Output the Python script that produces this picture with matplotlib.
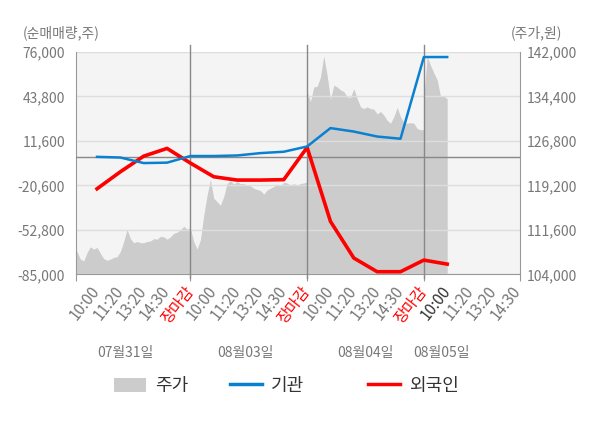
import numpy as np
import matplotlib
matplotlib.use("Agg")
import matplotlib.pyplot as plt
import matplotlib.transforms as mtransforms
from matplotlib.patches import Patch
from matplotlib.lines import Line2D

plt.rcParams['font.family'] = ['Noto Sans CJK KR', 'DejaVu Sans']

# ---- data ----
tick_labels = ["10:00", "11:20", "13:20", "14:30", "장마감"] * 3 + ["10:00", "11:20", "13:20", "14:30"]
day_labels = ["07월31일", "08월03일", "08월04일", "08월05일"]
day_label_pos = [2.2, 7.35, 12.5, 15.75]

# 기관 / 외국인 순매매량 (주)
inst = [0, -500, -4500, -4200, 600, 600, 1000, 2700, 3700, 7500,
        20800, 18300, 14700, 13100, 72200, 72200]
foreign = [-23100, -10800, 500, 6100, -4500, -14400, -16800, -16800, -16500, 6800,
           -46700, -73200, -83100, -83100, -74700, -77600]

# 주가 (원), 하루 단위 샘플
price_d1 = [108200, 107900, 106600, 106300, 107700, 108700, 108300, 108600, 107600, 106700,
            106400, 106600, 106900, 107000, 107900, 109600, 111700, 110100, 109400, 109600,
            109400, 109400, 109600, 109700, 110100, 110000, 110500, 110400, 110000, 110400,
            111000, 111200, 111600, 112200, 111700, 112000]
price_d2 = [111800, 109600, 108300, 109900, 114100, 117500, 120200, 117000, 116400, 115800,
            117300, 119500, 120000, 119400, 119800, 119500, 119500, 119200, 119100, 118700,
            118500, 118300, 117700, 118400, 118700, 119000, 119400, 119100, 119700, 119600,
            119200, 119500, 119200, 119500, 119600, 119800]
price_d3 = [135200, 133500, 136000, 136100, 137700, 141300, 138000, 133900, 136300, 136000,
            135500, 135200, 134300, 134200, 135700, 134000, 132600, 132300, 132600, 132300,
            132200, 131400, 131800, 131200, 130300, 129800, 130900, 132500, 130900, 129900,
            129800, 129900, 129800, 128900, 128700, 128700]
price_d4 = [134300, 141200, 139700, 138400, 137200, 134400, 134400, 134000]

# ---- figure ----
fig = plt.figure(figsize=(6, 4.28), dpi=100)
ax = fig.add_axes([0.1267, 0.359, 0.74, 0.52])
ax.set_facecolor('#f4f4f4')
ax2 = ax.twinx()
ax.yaxis.tick_right()
ax2.yaxis.tick_left()

# price area
px, py = [], []
for d, p in enumerate([price_d1, price_d2, price_d3]):
    px.append(np.linspace(d * 5, d * 5 + 5, len(p)))
    py.append(np.array(p))
px.append(15 + np.arange(len(price_d4)) * 5 / 35)
py.append(np.array(price_d4))
px = np.concatenate(px)
py = np.concatenate(py)
ax.fill_between(px, 104000, py, color='#cccccc', lw=0)

ax.set_ylim(104000, 142000)
ax.set_yticks(np.arange(104000, 142001, 7600))
ax.set_yticklabels([f"{v:,}" for v in np.arange(104000, 142001, 7600)])
ax.grid(axis='y', color='#dddddd', lw=1)

xmin, xmax = 0.1, 19.12
ax.set_xlim(xmin, xmax)
ax.xaxis.remove_overlapping_locs = False
ax.set_xticks([xmin, 5, 10, 15, xmax])
ax.set_xticklabels([])
ax.tick_params(axis='x', which='major', length=5, color='#999999')
ax.set_xticks(np.arange(1, len(tick_labels) + 1), minor=True)
ax.set_xticklabels(tick_labels, minor=True, rotation=52, ha='right', va='center',
                   rotation_mode='anchor', fontsize=11)
ax.tick_params(axis='x', which='minor', length=0, pad=10)
for i, t in enumerate(ax.get_xticklabels(minor=True)):
    if tick_labels[i] == "장마감":
        t.set_color('red')
    elif i == 15:
        t.set_color('#333333')
    else:
        t.set_color('#777777')

ax.tick_params(axis='y', length=0, labelsize=10, labelcolor='#777777', pad=5)

# lines
xs = np.arange(1, len(inst) + 1)
ax2.set_ylim(-85000, 76000)
ax2.set_yticks(np.arange(-85000, 76001, 32200))
ax2.set_yticklabels([f"{v:,}" for v in np.arange(-85000, 76001, 32200)])
ax2.tick_params(axis='y', length=0, labelsize=10, labelcolor='#777777', pad=8)
ax2.axhline(0, color='#888888', lw=1, zorder=2)
for b in [5, 10, 15]:
    ax2.axvline(b, ymin=-0.015, ymax=1.03, color='#888888', lw=1, clip_on=False, zorder=2)
ax2.plot(xs, foreign, color='#ff0000', lw=2.6, zorder=3)
ax2.plot(xs, inst, color='#0a80d0', lw=1.8, zorder=4)

for a in (ax, ax2):
    a.spines['top'].set_visible(False)
for s in ['left', 'right', 'bottom']:
    ax.spines[s].set_color('#999999')
    ax2.spines[s].set_visible(False)

# date labels
trans = mtransforms.blended_transform_factory(ax.transData, fig.transFigure)
for pos, lab in zip(day_label_pos, day_labels):
    ax.text(pos, 0.175, lab, transform=trans, ha='center', va='center',
            fontsize=10, color='#777777')

fig.text(0.038, 0.923, "(순매매량,주)", ha='left', va='center', fontsize=10, color='#777777')
fig.text(0.937, 0.923, "(주가,원)", ha='right', va='center', fontsize=10, color='#777777')

# legend entries placed one by one
handles = [Patch(facecolor='#cccccc', edgecolor='none'),
           Line2D([], [], color='#0a80d0', lw=2.5),
           Line2D([], [], color='#ff0000', lw=2.5)]
names = ["주가", "기관", "외국인"]
leg_x = [114 / 600, 230 / 600, 368 / 600]
for h, n, lx in zip(handles, names, leg_x):
    leg = fig.legend([h], [n], loc='center left', bbox_to_anchor=(lx, 0.098),
                     frameon=False, fontsize=13, handlelength=1.75, handleheight=0.8,
                     handletextpad=0.5, borderpad=0, borderaxespad=0)
    for t in leg.get_texts():
        t.set_color('#333333')

fig.savefig("out.png", dpi=100)
